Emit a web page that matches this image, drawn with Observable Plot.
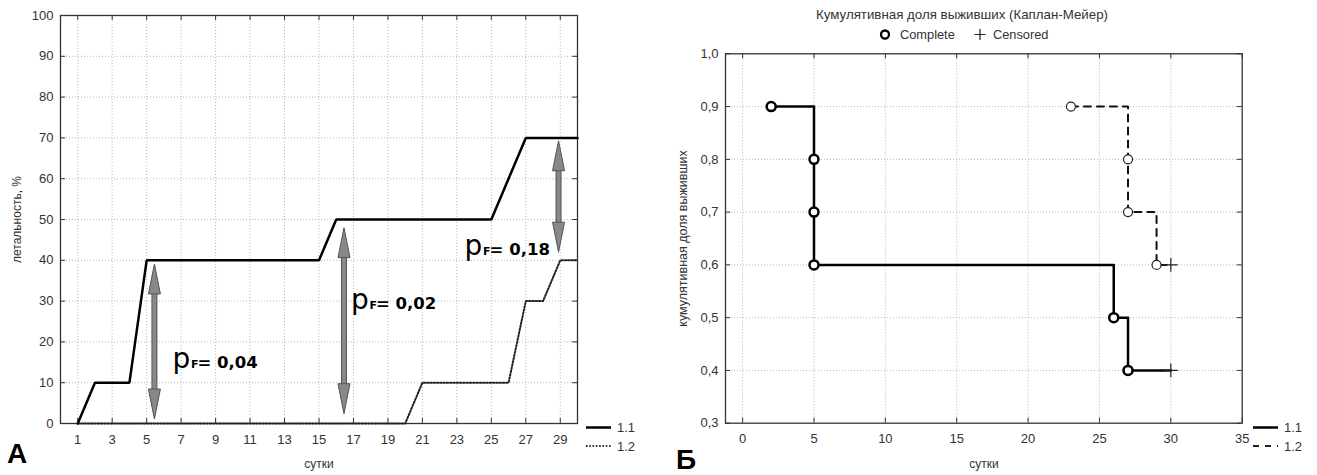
<!DOCTYPE html>
<html><head><meta charset="utf-8">
<script src="https://cdn.jsdelivr.net/npm/d3@7"></script>
<script src="https://cdn.jsdelivr.net/npm/@observablehq/plot@0.6"></script>
<style>
body{margin:0;background:#fff;}
#wrap{position:relative;width:1317px;height:475px;overflow:hidden;background:#fff;font-family:"Liberation Sans",Arial,sans-serif;}
#wrap > *{position:absolute;top:0;}
</style></head>
<body><div id="wrap"></div>
<script>
// ---------- Panel A: lethality, % by day ----------
const days11 = [1, 2, 4, 5, 15, 16, 25, 27, 30];
const leth11 = [0, 10, 10, 40, 40, 50, 50, 70, 70];
const days12 = [1, 20, 21, 26, 27, 28, 29, 30];
const leth12 = [0, 0, 10, 10, 30, 30, 40, 40];
const dayTicksA = [1, 3, 5, 7, 9, 11, 13, 15, 17, 19, 21, 23, 25, 27, 29];
const lethTicks = [0, 10, 20, 30, 40, 50, 60, 70, 80, 90, 100];
// Fisher exact test arrows and labels
const arrowDay = [5.45, 16.45, 28.9];
const arrowLow = [1.1, 2.4, 42];
const arrowHigh = [39.1, 48, 69.3];
const pValues = ["0,04", "0,02", "0,18"];
const pLabelDay = [6.5, 16.85, 23.45];
const pLabelLeth = [13.6, 28.0, 41.3];

// ---------- Panel B: Kaplan-Meier cumulative survival ----------
const kmTime11 = [2, 5, 26, 27, 30];
const kmSurv11 = [0.9, 0.6, 0.5, 0.4, 0.4];
const kmTime12 = [23, 27, 29, 30];
const kmSurv12 = [0.9, 0.7, 0.6, 0.6];
const complTime11 = [2, 5, 5, 5, 26, 27];
const complSurv11 = [0.9, 0.8, 0.7, 0.6, 0.5, 0.4];
const complTime12 = [23, 27, 27, 29];
const complSurv12 = [0.9, 0.8, 0.7, 0.6];
const censTime11 = [30];
const censSurv11 = [0.4];
const censTime12 = [30];
const censSurv12 = [0.6];
const dayTicksB = [0, 5, 10, 15, 20, 25, 30, 35];
const survTicks = [0.3, 0.4, 0.5, 0.6, 0.7, 0.8, 0.9, 1.0];

const zip = (xs, ys) => xs.map((x, i) => ({x, y: ys[i]}));
const commaFmt = d => d3.format(".1f")(d).replace(".", ",");

const TXT = "#333";
const GRID = {stroke: "#b8b8b8", strokeOpacity: 1, strokeDasharray: "1,2"};
const FRAME = {stroke: "#333", strokeWidth: 1.3};
const FONT = {fontFamily: "'Liberation Sans', Arial, sans-serif", fontSize: "13px", color: TXT, background: "transparent"};

const wrap = document.getElementById("wrap");

// ---------- Left chart ----------
{
  const W = 640, H = 475, mL = 60, mR = 63, mT = 15, mB = 52;
  const iW = W - mL - mR, iH = H - mT - mB;
  const arrows = arrowDay.map((d, i) => ({day: d, low: arrowLow[i], high: arrowHigh[i], p: pValues[i], lx: pLabelDay[i], ly: pLabelLeth[i]}));
  const headUp = {draw(c) { c.moveTo(0, 0); c.lineTo(6, 30); c.lineTo(-6, 30); c.closePath(); }};
  const headDown = {draw(c) { c.moveTo(0, 0); c.lineTo(6, -30); c.lineTo(-6, -30); c.closePath(); }};
  const chart = Plot.plot({
    width: W, height: H, marginLeft: mL, marginRight: mR, marginTop: mT, marginBottom: mB,
    style: FONT,
    x: {domain: [0, 30]},
    y: {domain: [0, 100]},
    marks: [
      Plot.gridX(dayTicksA, GRID),
      Plot.gridY(lethTicks.slice(1, -1), GRID),
      Plot.axisX(dayTicksA, {anchor: "bottom", tickSize: 0, tickPadding: 11, label: null, fill: TXT}),
      Plot.axisY(lethTicks, {anchor: "left", tickSize: 0, tickPadding: 7, label: null, fill: TXT}),
      Plot.tickX(dayTicksA, {x: d => d, insetTop: iH - 5, stroke: "#333"}),
      Plot.tickX(dayTicksA, {x: d => d, insetBottom: iH - 5, stroke: "#333"}),
      Plot.tickY(lethTicks, {y: d => d, insetRight: iW - 5, stroke: "#333"}),
      Plot.tickY(lethTicks, {y: d => d, insetLeft: iW - 5, stroke: "#333"}),
      Plot.text(["сутки"], {frameAnchor: "bottom", dy: 41, textAnchor: "middle", lineAnchor: "middle", fontSize: 12, fill: TXT}),
      Plot.text(["летальность, %"], {frameAnchor: "left", dx: -43, rotate: -90, textAnchor: "middle", lineAnchor: "middle", fontSize: 12, fill: TXT}),
      Plot.frame(FRAME),
      Plot.line(zip(days12, leth12), {x: "x", y: "y", stroke: "#222", strokeWidth: 2, strokeDasharray: "1.5,1.8"}),
      Plot.line(zip(days11, leth11), {x: "x", y: "y", stroke: "#000", strokeWidth: 2.5, strokeLinejoin: "miter"}),
      Plot.ruleX(arrows, {x: "day", y1: "high", y2: "low", insetTop: 26, insetBottom: 26, stroke: "#555", strokeWidth: 6}),
      Plot.ruleX(arrows, {x: "day", y1: "high", y2: "low", insetTop: 25, insetBottom: 25, stroke: "#888", strokeWidth: 4}),
      Plot.dot(arrows, {x: "day", y: "high", symbol: headUp, r: 1, fill: "#888", stroke: "#555", strokeWidth: 1}),
      Plot.dot(arrows, {x: "day", y: "low", symbol: headDown, r: 1, fill: "#888", stroke: "#555", strokeWidth: 1}),
      Plot.text(arrows, {x: "lx", y: "ly", text: () => "p", textAnchor: "start", lineAnchor: "bottom", fontSize: 28, fontFamily: "'DejaVu Sans', sans-serif", fill: "#000"}),
      Plot.text(arrows, {x: "lx", y: "ly", text: () => "F", dx: 18.5, textAnchor: "start", lineAnchor: "bottom", fontSize: 11, fontWeight: "bold", fontFamily: "'DejaVu Sans', sans-serif", fill: "#000"}),
      Plot.text(arrows, {x: "lx", y: "ly", text: d => "= " + d.p, dx: 25, textAnchor: "start", lineAnchor: "bottom", fontSize: 16.5, fontWeight: "bold", fontFamily: "'DejaVu Sans', sans-serif", fill: "#000"})
    ]
  });
  chart.style.left = "0px";
  wrap.appendChild(chart);
}

// ---------- Right chart ----------
{
  const W = 677, H = 475, mL = 85, mR = 75.3, mT = 53.3, mB = 52.3;
  const iW = W - mL - mR, iH = H - mT - mB;
  const chart = Plot.plot({
    width: W, height: H, marginLeft: mL, marginRight: mR, marginTop: mT, marginBottom: mB,
    style: FONT,
    x: {domain: [-1.2, 35]},
    y: {domain: [0.3, 1.0]},
    marks: [
      Plot.gridX(dayTicksB.slice(0, -1), GRID),
      Plot.gridY(survTicks.slice(1, -1), GRID),
      Plot.axisX(dayTicksB, {anchor: "bottom", tickSize: 0, tickPadding: 11, label: null, fill: TXT}),
      Plot.axisY(survTicks, {anchor: "left", tickSize: 0, tickPadding: 7, label: null, fill: TXT, tickFormat: commaFmt}),
      Plot.tickX(dayTicksB, {x: d => d, insetTop: iH - 5, stroke: "#333"}),
      Plot.tickX(dayTicksB, {x: d => d, insetBottom: iH - 5, stroke: "#333"}),
      Plot.tickY(survTicks, {y: d => d, insetRight: iW - 5, stroke: "#333"}),
      Plot.tickY(survTicks, {y: d => d, insetLeft: iW - 5, stroke: "#333"}),
      Plot.text(["сутки"], {frameAnchor: "bottom", dy: 41, textAnchor: "middle", lineAnchor: "middle", fontSize: 12, fill: TXT}),
      Plot.text(["кумулятивная доля выживших"], {frameAnchor: "left", dx: -43, rotate: -90, textAnchor: "middle", lineAnchor: "middle", fontSize: 12.5, fill: TXT}),
      Plot.frame(FRAME),
      Plot.line(zip(kmTime12, kmSurv12), {x: "x", y: "y", curve: "step-after", stroke: "#111", strokeWidth: 2, strokeDasharray: "7,6"}),
      Plot.line(zip(kmTime11, kmSurv11), {x: "x", y: "y", curve: "step-after", stroke: "#000", strokeWidth: 2.5}),
      Plot.dot(zip(complTime12, complSurv12), {x: "x", y: "y", r: 4.5, fill: "#fff", stroke: "#222", strokeWidth: 1.2}),
      Plot.dot(zip(complTime11, complSurv11), {x: "x", y: "y", r: 4.5, fill: "#fff", stroke: "#000", strokeWidth: 2.5}),
      Plot.dot(zip(censTime12, censSurv12), {x: "x", y: "y", symbol: "plus", r: 4.5, stroke: "#222", strokeWidth: 1.2}),
      Plot.dot(zip(censTime11, censSurv11), {x: "x", y: "y", symbol: "plus", r: 4.5, stroke: "#222", strokeWidth: 1.2})
    ]
  });
  chart.style.left = "640px";
  wrap.appendChild(chart);
}

// ---------- Titles, legends, panel letters ----------
{
  const svg = d3.create("svg").attr("width", 1317).attr("height", 475)
    .style("pointer-events", "none")
    .attr("font-family", "'Liberation Sans', Arial, sans-serif").attr("fill", TXT);
  // panel letters
  svg.append("text").attr("x", 7).attr("y", 463).attr("font-size", 28).attr("font-weight", "bold").attr("fill", "#000").text("А");
  svg.append("text").attr("x", 676).attr("y", 469).attr("font-size", 28).attr("font-weight", "bold").attr("fill", "#000").text("Б");
  // right title
  svg.append("text").attr("x", 962).attr("y", 18.5).attr("text-anchor", "middle").attr("font-size", 13.3).text("Кумулятивная доля выживших (Каплан-Мейер)");
  // Complete / Censored legend
  svg.append("circle").attr("cx", 885).attr("cy", 34.5).attr("r", 4).attr("fill", "#fff").attr("stroke", "#000").attr("stroke-width", 2.3);
  svg.append("text").attr("x", 900).attr("y", 39).attr("font-size", 12.8).text("Complete");
  svg.append("path").attr("d", "M974.5,34.5h11M980,29v11").attr("stroke", "#222").attr("stroke-width", 1.2);
  svg.append("text").attr("x", 993).attr("y", 39).attr("font-size", 12.8).text("Censored");
  // series legends
  const series = (x0, dash2, w2) => {
    svg.append("path").attr("d", `M${x0},427.5h25`).attr("stroke", "#000").attr("stroke-width", 2.5);
    svg.append("text").attr("x", x0 + 31).attr("y", 432).attr("font-size", 13).text("1.1");
    svg.append("path").attr("d", `M${x0},446h25`).attr("stroke", "#222").attr("stroke-width", w2).attr("stroke-dasharray", dash2);
    svg.append("text").attr("x", x0 + 31).attr("y", 451).attr("font-size", 13).text("1.2");
  };
  series(586, "1.5,1.8", 1.8);
  series(1253, "6,6", 2);
  wrap.appendChild(svg.node());
}
</script>
</body></html>
